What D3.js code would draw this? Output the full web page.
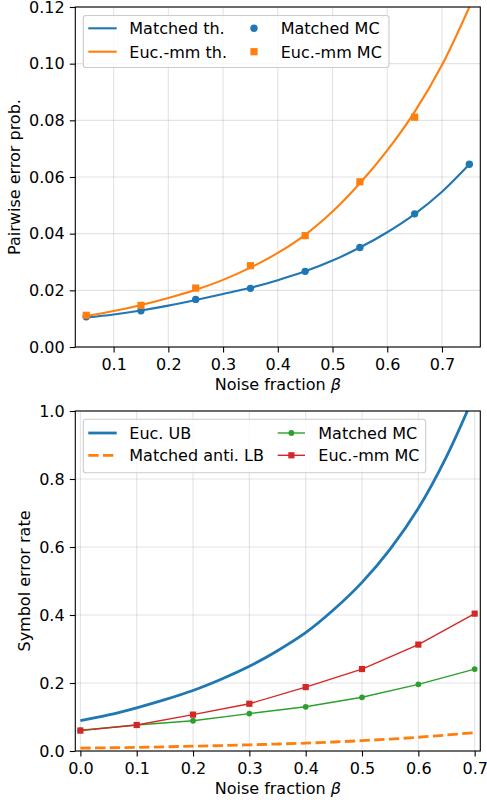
<!DOCTYPE html>
<html><head><meta charset="utf-8">
<script src="https://cdn.jsdelivr.net/npm/d3@7"></script>
<style>body{margin:0;background:#fff}svg{display:block}text{font-family:"DejaVu Sans",sans-serif;fill:#000}</style>
</head><body><svg id="c" width="487" height="804"></svg>
<script>
// ---------- Data: top panel (pairwise error probability) ----------
const thBeta    = [0.05,0.10,0.15,0.20,0.25,0.30,0.35,0.40,0.45,0.50,0.55,0.60,0.65,0.70,0.75];
const matchedTh = [0.0104,0.0115,0.0129,0.0146,0.0166,0.0187,0.0209,0.0236,0.0267,0.0305,0.0351,0.0405,0.0469,0.0548,0.0645];
const eucTh     = [0.0109,0.0127,0.0148,0.0173,0.0202,0.0237,0.0280,0.0332,0.0396,0.0478,0.0578,0.0694,0.0830,0.0995,0.1200];
const mcBeta    = [0.05,0.15,0.25,0.35,0.45,0.55,0.65,0.75];
const matchedMC = [0.0107,0.0128,0.0168,0.0207,0.0267,0.0351,0.0470,0.0645];
const eucMCBeta = [0.05,0.15,0.25,0.35,0.45,0.55,0.65];
const eucMC     = [0.0112,0.0147,0.0208,0.0287,0.0393,0.0583,0.0811];
const topXTicks = [0.1,0.2,0.3,0.4,0.5,0.6,0.7];
const topYTicks = [0.00,0.02,0.04,0.06,0.08,0.10,0.12];

// ---------- Data: bottom panel (symbol error rate) ----------
const bndBeta   = [0,0.05,0.10,0.15,0.20,0.25,0.30,0.35,0.40,0.45,0.50,0.55,0.60,0.65,0.70];
const eucUB     = [0.089,0.106,0.127,0.151,0.178,0.211,0.249,0.295,0.348,0.416,0.496,0.594,0.714,0.866,1.05];
const antiLB    = [0.0085,0.0095,0.0108,0.0123,0.0141,0.016,0.0182,0.0205,0.0232,0.0265,0.0305,0.035,0.0405,0.047,0.054];
const symBeta   = [0,0.1,0.2,0.3,0.4,0.5,0.6,0.7];
const matchedSym= [0.061,0.0765,0.089,0.110,0.130,0.158,0.196,0.241];
const eucSym    = [0.060,0.0765,0.107,0.139,0.188,0.241,0.313,0.404];
const botXTicks = [0,0.1,0.2,0.3,0.4,0.5,0.6,0.7];
const botYTicks = [0,0.2,0.4,0.6,0.8,1.0];

const C = {blue:"#1f77b4", orange:"#ff7f0e", green:"#2ca02c", red:"#d62728"};
const FS = 16;
const svg = d3.select("#c");
svg.append("rect").attr("width",487).attr("height",804).attr("fill","#fff");

function panel(opt){
  const L=75.3, R=480.3, T=opt.top, B=opt.bottom;
  const x = d3.scaleLinear().domain(opt.xdom).range([L,R]);
  const y = d3.scaleLinear().domain(opt.ydom).range([B,T]);
  const g = svg.append("g");
  const id = "clip"+opt.name;
  svg.append("clipPath").attr("id",id).append("rect").attr("x",L).attr("y",T).attr("width",R-L).attr("height",B-T);
  g.selectAll(".gx").data(opt.xticks).join("line")
    .attr("x1",d=>x(d)).attr("x2",d=>x(d)).attr("y1",T).attr("y2",B)
    .attr("stroke","#b0b0b0").attr("stroke-opacity",0.35).attr("stroke-width",1.1);
  g.selectAll(".gy").data(opt.yticks).join("line")
    .attr("y1",d=>y(d)).attr("y2",d=>y(d)).attr("x1",L).attr("x2",R)
    .attr("stroke","#b0b0b0").attr("stroke-opacity",0.35).attr("stroke-width",1.1);
  const ax = g.append("g").attr("transform",`translate(0,${B})`)
    .call(d3.axisBottom(x).tickValues(opt.xticks).tickFormat(d3.format(opt.xfmt)).tickSize(5.5).tickPadding(6.1));
  const ay = g.append("g").attr("transform",`translate(${L},0)`)
    .call(d3.axisLeft(y).tickValues(opt.yticks).tickFormat(d3.format(opt.yfmt)).tickSize(5.5).tickPadding(5.2));
  [ax,ay].forEach(a=>{
    a.select(".domain").remove();
    a.selectAll(".tick line").attr("stroke","#000").attr("stroke-width",1.1);
    a.selectAll(".tick text").attr("font-size",FS).attr("font-family","DejaVu Sans").attr("fill","#000");
  });
  const xl = g.append("text").attr("x",(L+R)/2).attr("y",B+43).attr("text-anchor","middle").attr("font-size",FS);
  xl.append("tspan").text("Noise fraction ");
  xl.append("tspan").attr("font-style","italic").text("β");
  g.append("text").attr("transform",`translate(${opt.ylabX},${(T+B)/2}) rotate(-90)`)
    .attr("text-anchor","middle").attr("font-size",FS).text(opt.ylabel);
  const plot = g.append("g").attr("clip-path",`url(#${id})`);
  return {x,y,g,plot,L,R,T,B};
}

// ---------- Top panel ----------
const P1 = panel({name:"a",top:7,bottom:347,xdom:[0.03,0.77],ydom:[0,0.12],xticks:topXTicks,yticks:topYTicks,
  xfmt:".1f",yfmt:".2f",ylabel:"Pairwise error prob.",ylabX:19.5});
const lineTop = d3.line().x(d=>P1.x(d[0])).y(d=>P1.y(d[1])).curve(d3.curveCatmullRom);
P1.plot.append("path").attr("d",lineTop(d3.zip(thBeta,matchedTh))).attr("fill","none").attr("stroke",C.blue).attr("stroke-width",2.1);
P1.plot.append("path").attr("d",lineTop(d3.zip(thBeta,eucTh))).attr("fill","none").attr("stroke",C.orange).attr("stroke-width",2.1);
P1.plot.selectAll(".mb").data(d3.zip(mcBeta,matchedMC)).join("circle")
  .attr("cx",d=>P1.x(d[0])).attr("cy",d=>P1.y(d[1])).attr("r",3.7).attr("fill",C.blue);
P1.plot.selectAll(".mo").data(d3.zip(eucMCBeta,eucMC)).join("rect")
  .attr("x",d=>P1.x(d[0])-3.6).attr("y",d=>P1.y(d[1])-3.6).attr("width",7.2).attr("height",7.2).attr("fill",C.orange);
P1.g.append("rect").attr("x",P1.L).attr("y",P1.T).attr("width",P1.R-P1.L).attr("height",P1.B-P1.T)
  .attr("fill","none").attr("stroke","#000").attr("stroke-width",1.1);

// ---------- Bottom panel ----------
const P2 = panel({name:"b",top:411,bottom:751,xdom:[-0.009,0.71],ydom:[0,1.0],xticks:botXTicks,yticks:botYTicks,
  xfmt:".1f",yfmt:".1f",ylabel:"Symbol error rate",ylabX:29.5});
const lineB = d3.line().x(d=>P2.x(d[0])).y(d=>P2.y(d[1])).curve(d3.curveCatmullRom);
const lineL = d3.line().x(d=>P2.x(d[0])).y(d=>P2.y(d[1]));
P2.plot.append("path").attr("d",lineB(d3.zip(bndBeta,eucUB))).attr("fill","none").attr("stroke",C.blue).attr("stroke-width",2.8);
P2.plot.append("path").attr("d",lineB(d3.zip(bndBeta,antiLB))).attr("fill","none").attr("stroke",C.orange).attr("stroke-width",2.8).attr("stroke-dasharray","10.3,4.4");
P2.plot.append("path").attr("d",lineL(d3.zip(symBeta,matchedSym))).attr("fill","none").attr("stroke",C.green).attr("stroke-width",1.4);
P2.plot.selectAll(".gm").data(d3.zip(symBeta,matchedSym)).join("circle")
  .attr("cx",d=>P2.x(d[0])).attr("cy",d=>P2.y(d[1])).attr("r",2.9).attr("fill",C.green);
P2.plot.append("path").attr("d",lineL(d3.zip(symBeta,eucSym))).attr("fill","none").attr("stroke",C.red).attr("stroke-width",1.4);
P2.plot.selectAll(".rm").data(d3.zip(symBeta,eucSym)).join("rect")
  .attr("x",d=>P2.x(d[0])-3.1).attr("y",d=>P2.y(d[1])-3.1).attr("width",6.2).attr("height",6.2).attr("fill",C.red);
P2.g.append("rect").attr("x",P2.L).attr("y",P2.T).attr("width",P2.R-P2.L).attr("height",P2.B-P2.T)
  .attr("fill","none").attr("stroke","#000").attr("stroke-width",1.1);

// ---------- Legends ----------
function legendBox(x0,y0,x1,y1){
  svg.append("rect").attr("x",x0).attr("y",y0).attr("width",x1-x0).attr("height",y1-y0).attr("rx",2.8)
    .attr("fill","#fff").attr("fill-opacity",0.8).attr("stroke","#cccccc").attr("stroke-width",1.1);
}
function legText(x,yc,t){
  svg.append("text").attr("x",x).attr("y",yc+5.8).attr("font-size",FS).text(t);
}
legendBox(83.3,15.5,389,67.5);
[[28.3,"Matched th.",C.blue],[51.7,"Euc.-mm th.",C.orange]].forEach(([yc,t,c])=>{
  svg.append("line").attr("x1",88.3).attr("x2",116.7).attr("y1",yc).attr("y2",yc).attr("stroke",c).attr("stroke-width",2.1);
  legText(129.3,yc,t);
});
svg.append("circle").attr("cx",254).attr("cy",28.3).attr("r",3.7).attr("fill",C.blue);
legText(280.7,28.3,"Matched MC");
svg.append("rect").attr("x",254-3.6).attr("y",51.7-3.6).attr("width",7.2).attr("height",7.2).attr("fill",C.orange);
legText(280.7,51.7,"Euc.-mm MC");

legendBox(83.3,419.3,425.7,472.7);
svg.append("line").attr("x1",88.3).attr("x2",116.7).attr("y1",433).attr("y2",433).attr("stroke",C.blue).attr("stroke-width",2.8);
legText(129.3,433,"Euc. UB");
svg.append("line").attr("x1",88.3).attr("x2",116.7).attr("y1",455.3).attr("y2",455.3).attr("stroke",C.orange).attr("stroke-width",2.8).attr("stroke-dasharray","10.3,4.4");
legText(129.3,455.3,"Matched anti. LB");
svg.append("line").attr("x1",277.7).attr("x2",305).attr("y1",433).attr("y2",433).attr("stroke",C.green).attr("stroke-width",1.4);
svg.append("circle").attr("cx",291.4).attr("cy",433).attr("r",2.9).attr("fill",C.green);
legText(318.3,433,"Matched MC");
svg.append("line").attr("x1",277.7).attr("x2",305).attr("y1",455.3).attr("y2",455.3).attr("stroke",C.red).attr("stroke-width",1.4);
svg.append("rect").attr("x",291.4-3.1).attr("y",455.3-3.1).attr("width",6.2).attr("height",6.2).attr("fill",C.red);
legText(318.3,455.3,"Euc.-mm MC");
</script></body></html>
